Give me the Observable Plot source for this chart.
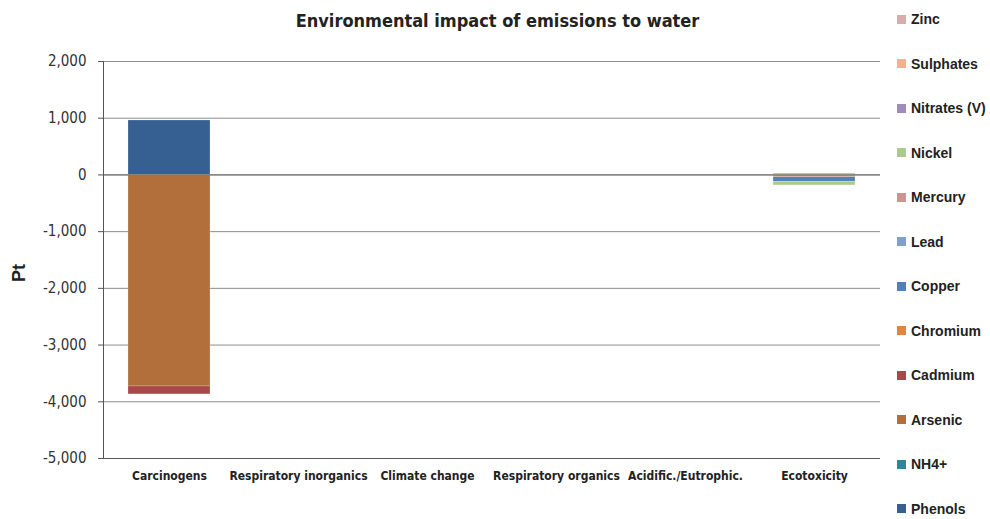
<!DOCTYPE html>
<html>
<head>
<meta charset="utf-8">
<script src="https://cdn.jsdelivr.net/npm/d3@7"></script>
<script src="https://cdn.jsdelivr.net/npm/@observablehq/plot@0.6"></script>
<style>
  html, body { margin: 0; padding: 0; background: #fff; }
  #wrap { position: relative; width: 990px; height: 519px; overflow: hidden; }
  #title { position: absolute; left: 0; width: 995px; top: 10px; text-align: center;
    font-family: "DejaVu Sans Condensed", sans-serif; font-weight: bold; font-size: 18px; color: #222; }
  #legend { position: absolute; left: 897px; top: 0; font-family: "Liberation Sans", Arial, sans-serif; font-weight: bold; font-size: 14px; color: #222; }
  .item { position: absolute; white-space: nowrap; display: flex; align-items: center; height: 16px; line-height: 16px; }
  .sw { width: 9px; height: 9px; margin-right: 5px; }
</style>
</head>
<body>
<div id="wrap">
  <div id="chart"></div>
  <div id="title">Environmental impact of emissions to water</div>
  <div id="legend"></div>
</div>
<script>
const categories = ["Carcinogens", "Respiratory inorganics", "Climate change", "Respiratory organics", "Acidific./Eutrophic.", "Ecotoxicity"];
// series in stacking order (series 1 first)
const substances = ["Phenols", "NH4+", "Arsenic", "Cadmium", "Chromium", "Copper", "Lead", "Mercury", "Nickel", "Nitrates (V)", "Sulphates", "Zinc"];
const colors = ["#376092", "#31859c", "#b26f3b", "#a8484b", "#df8641", "#4f81bd", "#80a0cc", "#d19392", "#aacb8c", "#9e8cb9", "#f9af87", "#d9abab"];
const phenols   = [960, 0, 0, 0, 0, 0];
const nh4       = [0, 0, 0, 0, 0, 0];
const arsenic   = [-3730, 0, 0, 0, 0, 0];
const cadmium   = [-140, 0, 0, 0, 0, 0];
const chromium  = [0, 0, 0, 0, 0, -40];
const copper    = [0, 0, 0, 0, 0, -80];
const lead      = [0, 0, 0, 0, 0, 0];
const mercury   = [0, 0, 0, 0, 0, 0];
const nickel    = [0, 0, 0, 0, 0, -65];
const nitrates  = [0, 0, 0, 0, 0, 0];
const sulphates = [0, 0, 0, 0, 0, 0];
const zinc      = [0, 0, 0, 0, 0, 25];
const yTicks = [-5000, -4000, -3000, -2000, -1000, 0, 1000, 2000];

const series = [phenols, nh4, arsenic, cadmium, chromium, copper, lead, mercury, nickel, nitrates, sulphates, zinc];
const data = [];
substances.forEach((s, i) => categories.forEach((c, j) => data.push({category: c, substance: s, value: series[i][j]})));

const fmt = d => d3.format(",")(d).replace("\u2212", "-");
const chart = Plot.plot({
  width: 990,
  height: 519,
  marginLeft: 103,
  marginRight: 110,
  marginTop: 61,
  marginBottom: 61,
  style: {fontFamily: "'DejaVu Sans Condensed', sans-serif", background: "white"},
  x: {domain: categories, paddingInner: 0.367, paddingOuter: 0.1835, label: null},
  y: {domain: [-5000, 2000], ticks: yTicks, label: null},
  color: {domain: substances, range: colors},
  marks: [
    Plot.gridY(yTicks, {stroke: "#8c8c8c", strokeOpacity: 1, strokeWidth: 1}),
    Plot.barY(data, {x: "category", y: "value", fill: "substance", stroke: "white", strokeOpacity: 0.35, strokeWidth: 0.6}),
    Plot.ruleY([0], {stroke: "#7a7a7a", strokeWidth: 1.2}),
    Plot.ruleY([-5000], {stroke: "#555", strokeWidth: 1}),
    Plot.axisY({ticks: yTicks, tickFormat: fmt, tickSize: 5, tickPadding: 12, fontSize: 15, fill: "#333", stroke: "#555"}),
    Plot.frame({anchor: "left", stroke: "#555"}),
    Plot.axisX({tickSize: 0, tickPadding: 13, fontSize: 12, fontWeight: "600", fill: "#222", label: null}),
    Plot.text(["Pt"], {frameAnchor: "left", dx: -84, rotate: -90, fontSize: 18, fontWeight: "bold", fill: "#222", fontFamily: "'Liberation Sans', Arial, sans-serif", dy: 22})
  ]
});
document.getElementById("chart").appendChild(chart);

const legendOrder = [...substances].reverse();
const leg = document.getElementById("legend");
legendOrder.forEach((s, i) => {
  const div = document.createElement("div");
  div.className = "item";
  div.style.top = (11 + i * 44.5) + "px";
  const sw = document.createElement("span");
  sw.className = "sw";
  sw.style.background = colors[substances.indexOf(s)];
  div.appendChild(sw);
  div.appendChild(document.createTextNode(s));
  leg.appendChild(div);
});
</script>
</body>
</html>
